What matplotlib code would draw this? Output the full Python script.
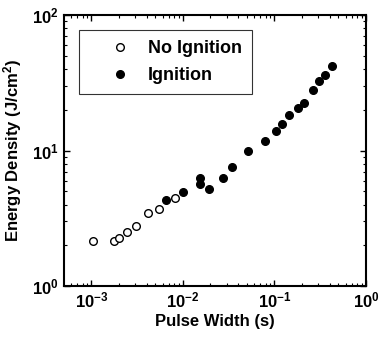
import matplotlib.pyplot as plt
import numpy as np
from matplotlib.ticker import LogLocator, FuncFormatter, NullFormatter

plt.rcParams['font.family'] = ['Liberation Sans', 'DejaVu Sans']
plt.rcParams['font.weight'] = 'bold'
plt.rcParams['mathtext.fontset'] = 'custom'
plt.rcParams['mathtext.rm'] = 'Liberation Sans:bold'
plt.rcParams['mathtext.bf'] = 'Liberation Sans:bold'
plt.rcParams['mathtext.it'] = 'Liberation Sans:bold'
plt.rcParams['mathtext.default'] = 'bf'

# 未点火
no_ign_x = [1.04e-3, 1.75e-3, 1.99e-3, 2.44e-3, 3.04e-3, 4.11e-3, 5.42e-3, 8.1e-3]
no_ign_y = [2.15, 2.15, 2.28, 2.52, 2.78, 3.45, 3.7, 4.45]

# 点火
ign_x = [6.58e-3, 1.0e-2, 1.52e-2, 1.52e-2, 1.92e-2, 2.72e-2, 3.44e-2, 5.1e-2,
         7.9e-2, 0.104, 0.121, 0.145, 0.179, 0.208, 0.261, 0.303, 0.359, 0.425]
ign_y = [4.35, 4.97, 6.31, 5.70, 5.17, 6.31, 7.61, 9.95,
         11.8, 14.0, 15.7, 18.3, 20.8, 22.3, 28.0, 32.8, 36.1, 42.4]

fig = plt.figure(figsize=(3.82, 3.37), dpi=100)
ax = fig.add_axes([0.1675, 0.151, 0.7905, 0.804])

ax.plot(no_ign_x, no_ign_y, 'o', mfc='white', mec='black', mew=1.0, ms=5.5,
        linestyle='none', label='No Ignition')
ax.plot(ign_x, ign_y, 'o', mfc='black', mec='black', ms=5.5,
        linestyle='none', label='Ignition')

ax.set_xscale('log')
ax.set_yscale('log')
ax.set_xlim(10**-3.3, 1)
ax.set_ylim(1, 100)

def fmt(v, pos):
    e = int(round(np.log10(v)))
    return r'$\mathbf{10^{%d}}$' % e

ax.xaxis.set_major_locator(LogLocator(base=10, numticks=10))
ax.yaxis.set_major_locator(LogLocator(base=10, numticks=10))
ax.xaxis.set_major_formatter(FuncFormatter(fmt))
ax.yaxis.set_major_formatter(FuncFormatter(fmt))
ax.xaxis.set_minor_formatter(NullFormatter())
ax.yaxis.set_minor_formatter(NullFormatter())

ax.tick_params(which='both', direction='in', top=True, right=True, labelsize=12)
ax.tick_params(which='major', length=4, width=1.0)
ax.tick_params(which='minor', length=2, width=0.8)
for s in ax.spines.values():
    s.set_linewidth(1.5)

ax.set_xlabel('Pulse Width (s)', fontsize=12, fontweight='bold', labelpad=2)
ax.set_ylabel('Energy Density (J/cm$^2$)', fontsize=12, fontweight='bold', labelpad=6)

leg = ax.legend(loc='upper left', bbox_to_anchor=(0.05, 0.945), fontsize=13,
                frameon=True, fancybox=False, borderpad=0.55, labelspacing=0.55,
                handlelength=3.4, handletextpad=-0.15, borderaxespad=0)
leg.get_frame().set_edgecolor('black')
leg.get_frame().set_linewidth(0.8)
for t in leg.get_texts():
    t.set_fontweight('bold')

fig.savefig('out.png', dpi=100, facecolor='white')
